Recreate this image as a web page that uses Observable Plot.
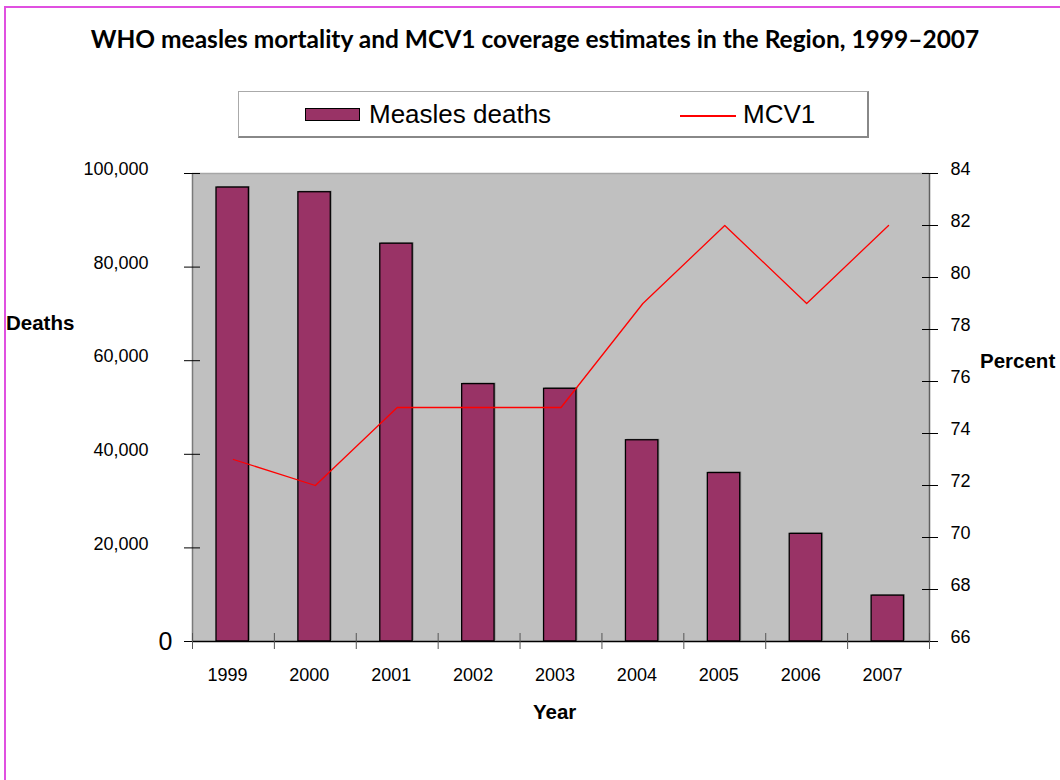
<!DOCTYPE html>
<html>
<head>
<meta charset="utf-8">
<script src="https://cdn.jsdelivr.net/npm/d3@7"></script>
<script src="https://cdn.jsdelivr.net/npm/@observablehq/plot@0.6"></script>
<style>
  html, body { margin: 0; padding: 0; background: #fff; }
  #page { position: relative; width: 1060px; height: 780px; overflow: hidden; background: #fff; font-family: "Liberation Sans", Arial, sans-serif; }
  #page svg { position: absolute; left: 0; top: 0; }
  .frame-line { position: absolute; left: 4px; top: 6px; right: -10px; bottom: -10px; border-left: 2px solid #e050e0; border-top: 2px solid #e050e0; }
  .lbl { position: absolute; white-space: nowrap; color: #000; }
  #title { left: 0; width: 1070px; text-align: center; top: 24px; height: 30px; line-height: 30px; font-family: Lato, "Open Sans", sans-serif; font-weight: 700; font-size: 24.5px; }
  #legend { position: absolute; left: 238px; top: 91px; width: 628px; height: 44px; border: 1px solid #aaa; border-right: 2px solid #888; border-bottom: 2px solid #888; background: #fff; }
  .axis-title { font-weight: 700; font-size: 20.5px; height: 30px; line-height: 30px; }
</style>
</head>
<body>
<div id="page">
  <div class="frame-line"></div>
  <div class="lbl" id="title">WHO measles mortality and MCV1 coverage estimates in the Region, 1999–2007</div>
  <div id="legend"></div>
  <div class="lbl axis-title" style="left:6px; top:308px;">Deaths</div>
  <div class="lbl axis-title" style="left:980px; top:346px;">Percent</div>
  <div class="lbl axis-title" style="left:533px; top:697px;">Year</div>
</div>
<script>
// Measles deaths (bars) and first-dose measles vaccine coverage (line), by year
const years = [1999, 2000, 2001, 2002, 2003, 2004, 2005, 2006, 2007];
const deaths = [97000, 96000, 85000, 55000, 54000, 43000, 36000, 23000, 9800];
const mcv1 = [73, 72, 75, 75, 75, 79, 82, 79, 82];

const deathTicks = [0, 20000, 40000, 60000, 80000, 100000];
const percentTicks = [66, 68, 70, 72, 74, 76, 78, 80, 82, 84];

const legendItems = ["Measles deaths", "MCV1"];

const rows = years.map((year, i) => ({year, deaths: deaths[i], mcv1: mcv1[i]}));

// Right axis (percent) shares the left y scale through a linear mapping
const pctMin = percentTicks[0], pctMax = percentTicks[percentTicks.length - 1];
const deathMax = deathTicks[deathTicks.length - 1];
const pctToY = p => (p - pctMin) / (pctMax - pctMin) * deathMax;
const yToPct = v => pctMin + v / deathMax * (pctMax - pctMin);

const boundaries = [...years.map(y => y - 0.5), years[years.length - 1] + 0.5];
const fmt = d3.format(",");

const chart = Plot.plot({
  width: 1060,
  height: 780,
  marginLeft: 192,
  marginRight: 131,
  marginTop: 173,
  marginBottom: 139,
  style: {fontFamily: "'Liberation Sans', Arial, sans-serif", fontSize: "18px", color: "#000", background: "transparent", overflow: "visible"},
  x: {type: "linear", domain: [boundaries[0], boundaries[boundaries.length - 1]], axis: null},
  y: {domain: [0, deathMax], axis: null},
  marks: [
    Plot.frame({fill: "#c0c0c0", stroke: null}),
    Plot.ruleY([deathMax], {stroke: "#a6a6a6", strokeWidth: 1.5}),
    Plot.ruleX([boundaries[0]], {stroke: "#7a7a7a", strokeWidth: 1.5}),
    Plot.ruleX([boundaries[boundaries.length - 1]], {stroke: "#606060", strokeWidth: 1.5}),
    // bar shadow
    Plot.rect(rows, {x1: d => d.year - 0.5, x2: d => d.year + 0.5, y1: 0, y2: "deaths", insetLeft: 25, insetRight: 24, fill: "#8a8a8a", dy: -1}),
    Plot.rect(rows, {x1: d => d.year - 0.5, x2: d => d.year + 0.5, y1: 0, y2: "deaths", insetLeft: 24, insetRight: 25.5, fill: "#993366", stroke: "#000", strokeWidth: 1.3}),
    Plot.line(rows, {x: "year", y: d => pctToY(d.mcv1), stroke: "#ff0000", strokeWidth: 1.3}),
    Plot.ruleY([0], {stroke: "#000", strokeWidth: 1.5}),
    // left axis
    Plot.axisY({anchor: "left", ticks: deathTicks, tickSize: 16, dx: 8, tickFormat: () => "", stroke: "#000", label: null}),
    Plot.axisY({anchor: "left", ticks: deathTicks.filter(d => d > 0), tickSize: 0, tickPadding: 44, dy: -4, tickFormat: fmt, label: null}),
    Plot.axisY({anchor: "left", ticks: [0], tickSize: 0, tickPadding: 20, fontSize: 25, tickFormat: fmt, label: null}),
    // right axis
    Plot.axisY({anchor: "right", ticks: percentTicks.map(pctToY), tickSize: 16, dx: -8, tickFormat: () => "", stroke: "#000", label: null}),
    Plot.axisY({anchor: "right", ticks: percentTicks.map(pctToY), tickSize: 0, tickPadding: 21, dy: -4, tickFormat: d => String(Math.round(yToPct(d))), label: null}),
    // bottom axis
    Plot.axisX({anchor: "bottom", ticks: boundaries, tickSize: 16, dy: -8, tickFormat: () => "", stroke: "#555", label: null}),
    Plot.axisX({anchor: "bottom", ticks: years, tickSize: 0, tickPadding: 27, dx: -6, tickFormat: d => String(d), label: null})
  ]
});
document.getElementById("page").appendChild(chart);

// Legend
const legend = document.getElementById("legend");
legend.innerHTML = `
  <div style="position:absolute;left:66px;top:16px;width:53px;height:11px;background:#993366;border:1px solid #000;"></div>
  <div class="lbl" style="left:130px;top:4px;height:36px;line-height:36px;font-size:26px;">${legendItems[0]}</div>
  <div style="position:absolute;left:441px;top:23px;width:56px;height:1.5px;background:#ff0000;"></div>
  <div class="lbl" style="left:504px;top:4px;height:36px;line-height:36px;font-size:26px;">${legendItems[1]}</div>
`;
</script>
</body>
</html>
